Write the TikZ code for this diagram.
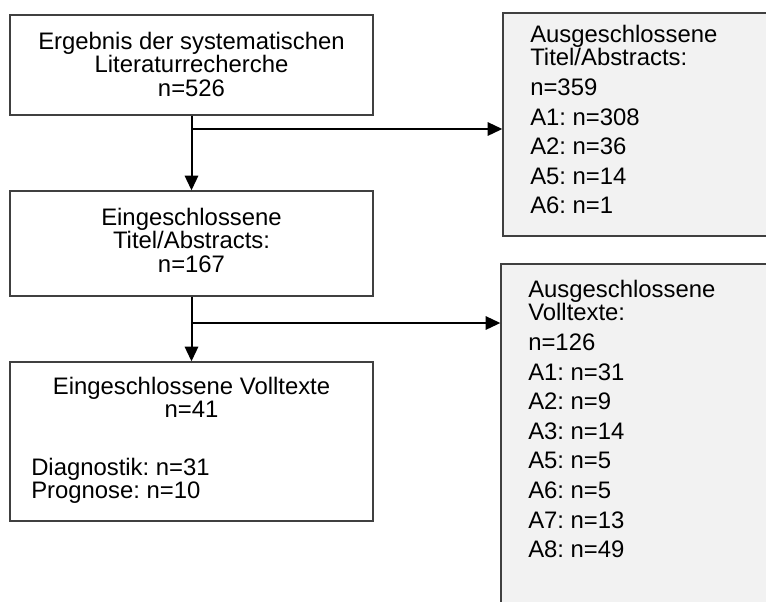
\documentclass[tikz,border=0pt]{standalone}
\usepackage{fontspec}
\setmainfont{Liberation Sans}
\usetikzlibrary{arrows.meta}
\frenchspacing
\begin{document}
\begin{tikzpicture}[x=0.75pt,y=-0.75pt,
  box/.style={draw=black!75, line width=1pt, inner sep=0pt},
  graybox/.style={box, fill=black!5},
  txt/.style={inner sep=0pt, font=\fontsize{17.9pt}{17.6pt}\selectfont},
  arr/.style={line width=1.5pt, -{Triangle[length=11pt,width=10pt]}}]
\useasboundingbox (0,0) rectangle (766,601);
\clip (0,0) rectangle (766,601);
% boxes
\node[box, minimum width=272.25pt, minimum height=75pt] (b1) at (191.5,65) {};
\node[box, minimum width=272.25pt, minimum height=78.75pt] (b2) at (191.5,243.5) {};
\node[box, minimum width=272.25pt, minimum height=119.25pt] (b3) at (191.5,441.5) {};
\node[graybox, minimum width=222.75pt, minimum height=167.25pt] (r1) at (651.5,124.5) {};
\node[graybox, minimum width=224.25pt, minimum height=282pt] (r2) at (650.5,452) {};
% texts
\node[txt, align=center, anchor=north] (t1) at (191.5,31.5) {Ergebnis der systematischen\\Literaturrecherche\\n=526};
\node[txt, align=center, anchor=north] (t2) at (191.5,207.5) {Eingeschlossene\\Titel/Abstracts:\\n=167};
\node[txt, align=center, anchor=north] (t3) at (191.5,376.5) {Eingeschlossene Volltexte\\n=41};
\node[txt, align=left, anchor=north west] (t3b) at (31,457.5) {Diagnostik: n=31\\Prognose: n=10};
\node[txt, align=left, anchor=north west] (tr1) at (530,24.5) {Ausgeschlossene\\Titel/Abstracts:\\[4.9pt]n=359\\[4.6pt]A1: n=308\\[4.6pt]A2: n=36\\[4.6pt]A5: n=14\\[4.6pt]A6: n=1};
\node[txt, align=left, anchor=north west] (tr2) at (528,279.5) {Ausgeschlossene\\Volltexte:\\[4.9pt]n=126\\[4.6pt]A1: n=31\\[4.6pt]A2: n=9\\[4.6pt]A3: n=14\\[4.6pt]A5: n=5\\[4.6pt]A6: n=5\\[4.6pt]A7: n=13\\[4.6pt]A8: n=49};
% connectors
\coordinate (j1) at (191.5,129);
\coordinate (j2) at (191.5,323);
\draw[arr] (b1.south) -- (b2.north);
\draw[arr] (j1) -- (j1 -| r1.west);
\draw[arr] (b2.south) -- (b3.north);
\draw[arr] (j2) -- (j2 -| r2.west);
\end{tikzpicture}
\end{document}
